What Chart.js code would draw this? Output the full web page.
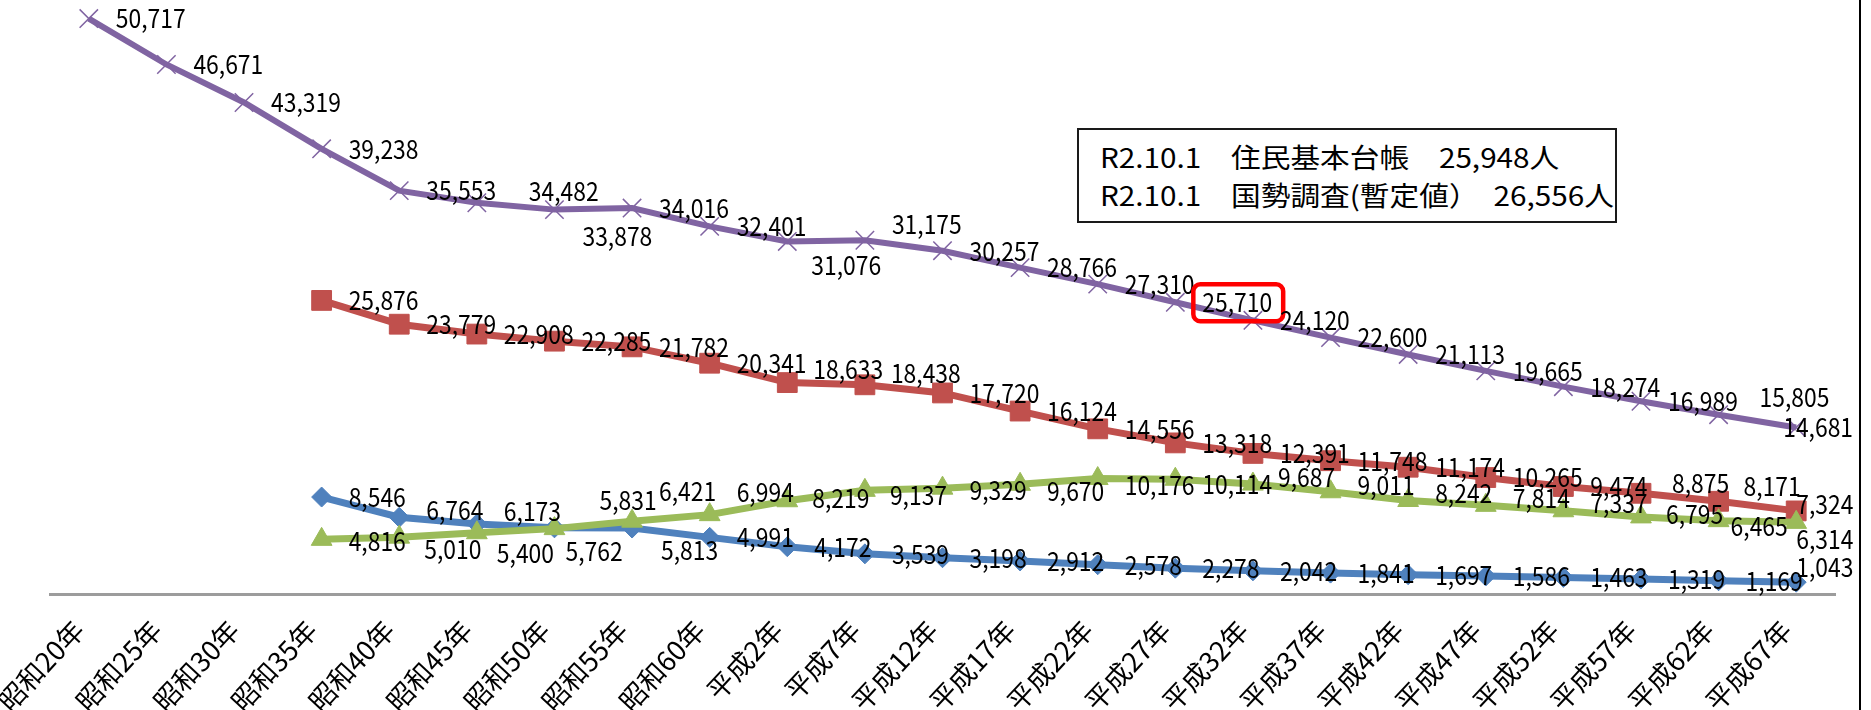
<!DOCTYPE html>
<html lang="ja">
<head>
<meta charset="utf-8">
<title>人口推移</title>
<script src="https://cdn.jsdelivr.net/npm/chart.js@4.4.1/dist/chart.umd.min.js"></script>
<style>
  html, body { margin: 0; padding: 0; background: #fff; }
  #wrap { position: relative; width: 1871px; height: 710px; overflow: hidden; }
  #popChart { display: block; }
  #note {
    position: absolute; left: 1077px; top: 128px; width: 540px; height: 95px;
    box-sizing: border-box; border: 2px solid #1a1a1a; background: #fff;
    padding: 8px 0 0 21px; color: #000; white-space: pre;
    font: 27px/38px "Noto Sans CJK JP", sans-serif;
  }
  #note span { display: inline-block; transform: scaleX(1.1); transform-origin: 0 50%; }
  #edge { position: absolute; left: 1859px; top: 0; width: 2px; height: 710px; background: #000; }
</style>
</head>
<body>
<div id="wrap">
  <canvas id="popChart" width="1871" height="710"></canvas>
  <div id="note"></div>
  <div id="edge"></div>
</div>
<script>
const categories = ['昭和20年', '昭和25年', '昭和30年', '昭和35年', '昭和40年', '昭和45年', '昭和50年', '昭和55年',
  '昭和60年', '平成2年', '平成7年', '平成12年', '平成17年', '平成22年', '平成27年', '平成32年', '平成37年',
  '平成42年', '平成47年', '平成52年', '平成57年', '平成62年', '平成67年'];

const totalPop = [50717, 46671, 43319, 39238, 35553, 34482, 33878, 34016, 32401, 31076, 31175, 30257,
  28766, 27310, 25710, 24120, 22600, 21113, 19665, 18274, 16989, 15805, 14681];
const workingPop = [null, null, null, 25876, 23779, 22908, 22285, 21782, 20341, 18633, 18438, 17720,
  16124, 14556, 13318, 12391, 11748, 11174, 10265, 9474, 8875, 8171, 7324];
const elderlyPop = [null, null, null, 4816, 5010, 5400, 5762, 6421, 6994, 8219, 9137, 9329,
  9670, 10176, 10114, 9687, 9011, 8242, 7814, 7337, 6795, 6465, 6314];
const childPop = [null, null, null, 8546, 6764, 6173, 5831, 5813, 4991, 4172, 3539, 3198,
  2912, 2578, 2278, 2042, 1841, 1697, 1586, 1463, 1319, 1169, 1043];

const noteLines = ['R2.10.1　住民基本台帳　25,948人', 'R2.10.1　国勢調査(暫定値）\u200226,556人'];

// label placement: [dx, dy] from the point, default is just right of it
const labelNudge = {
  total: { 5: [52, -12], 6: [28, 27], 9: [24, 24], 10: [27, -16], 21: [41, -18], 22: [-13, 0] },
  working: { 9: [26, -13], 10: [26, -12], 20: [31, -10], 21: [25, -15], 22: [0, -7] },
  elderly: { 3: [27, 2], 4: [25, 12], 5: [20, 20], 6: [11, 23], 7: [27, -30], 8: [27, -23], 9: [25, -3],
    10: [25, 5], 11: [27, 2], 12: [27, 7], 13: [27, 7], 14: [27, 5], 15: [25, -7], 16: [27, -7],
    17: [27, -7], 18: [27, -7], 19: [27, -8], 20: [25, -3], 21: [12, 5], 22: [0, 17] },
  child: { 4: [27, -7], 5: [27, -13], 6: [45, -28], 7: [29, 22], 22: [0, -15] }
};
const highlight = { key: 'total', index: 14 };

const note = document.getElementById('note');
noteLines.forEach(line => {
  const row = document.createElement('div');
  const span = document.createElement('span');
  span.textContent = line;
  row.appendChild(span);
  note.appendChild(row);
});

const pointLabels = {
  id: 'pointLabels',
  afterDatasetsDraw(chart) {
    const ctx = chart.ctx;
    const squeeze = 0.88;
    ctx.save();
    ctx.font = '26px "Noto Sans CJK JP"';
    ctx.textAlign = 'left';
    ctx.textBaseline = 'middle';
    chart.data.datasets.forEach((ds, di) => {
      const meta = chart.getDatasetMeta(di);
      meta.data.forEach((pt, i) => {
        const v = ds.data[i];
        if (v == null) return;
        const nudge = (labelNudge[ds.key] || {})[i] || [27, 0];
        const text = v.toLocaleString('en-US');
        const x = pt.x + nudge[0];
        const y = pt.y + nudge[1];
        ctx.save();
        ctx.translate(x, y);
        ctx.scale(squeeze, 1);
        ctx.fillStyle = '#000';
        ctx.fillText(text, 0, 0);
        ctx.restore();
        if (ds.key === highlight.key && i === highlight.index) {
          const w = ctx.measureText(text).width * squeeze;
          ctx.strokeStyle = '#ff0000';
          ctx.lineWidth = 4.5;
          ctx.beginPath();
          ctx.roundRect(x - 9, y - 18, w + 20, 37, 7);
          ctx.stroke();
        }
      });
    });
    ctx.restore();
  }
};

function series(key, label, values, color, style, radius, width, order) {
  return {
    key, label, data: values, order,
    borderColor: color, backgroundColor: color,
    borderWidth: width, tension: 0, clip: false,
    pointStyle: style, pointRadius: radius, pointHoverRadius: radius,
    pointBackgroundColor: color, pointBorderColor: color,
    pointBorderWidth: style === 'crossRot' ? 1.5 : 1
  };
}

new Chart(document.getElementById('popChart'), {
  type: 'line',
  data: {
    labels: categories,
    datasets: [
      series('child', '年少人口', childPop, '#4f81bd', 'rectRot', 10, 7, 3),
      series('working', '生産年齢人口', workingPop, '#c0504d', 'rect', 14, 7, 2),
      series('elderly', '老年人口', elderlyPop, '#9bbb59', 'triangle', 12, 7, 1),
      series('total', '総人口', totalPop, '#8064a2', 'crossRot', 13, 6, 0)
    ]
  },
  options: {
    responsive: false,
    animation: false,
    layout: { autoPadding: false, padding: { left: 50, right: 36, top: 4, bottom: 0 } },
    plugins: { legend: { display: false }, tooltip: { enabled: false } },
    scales: {
      x: {
        offset: true,
        grid: { display: false, drawTicks: false },
        border: { display: true, color: '#9c9c9c', width: 3 },
        ticks: {
          autoSkip: false, minRotation: 47, maxRotation: 47, padding: 20, labelOffset: -10,
          color: '#000', font: { family: '"Noto Sans CJK JP"', size: 27 }
        },
        afterFit(scale) {
          scale.height = 116;
          scale.paddingLeft = 0;
          scale.paddingRight = 0;
        }
      },
      y: { display: false, min: 0, max: 52000 }
    }
  },
  plugins: [pointLabels]
});
</script>
</body>
</html>
